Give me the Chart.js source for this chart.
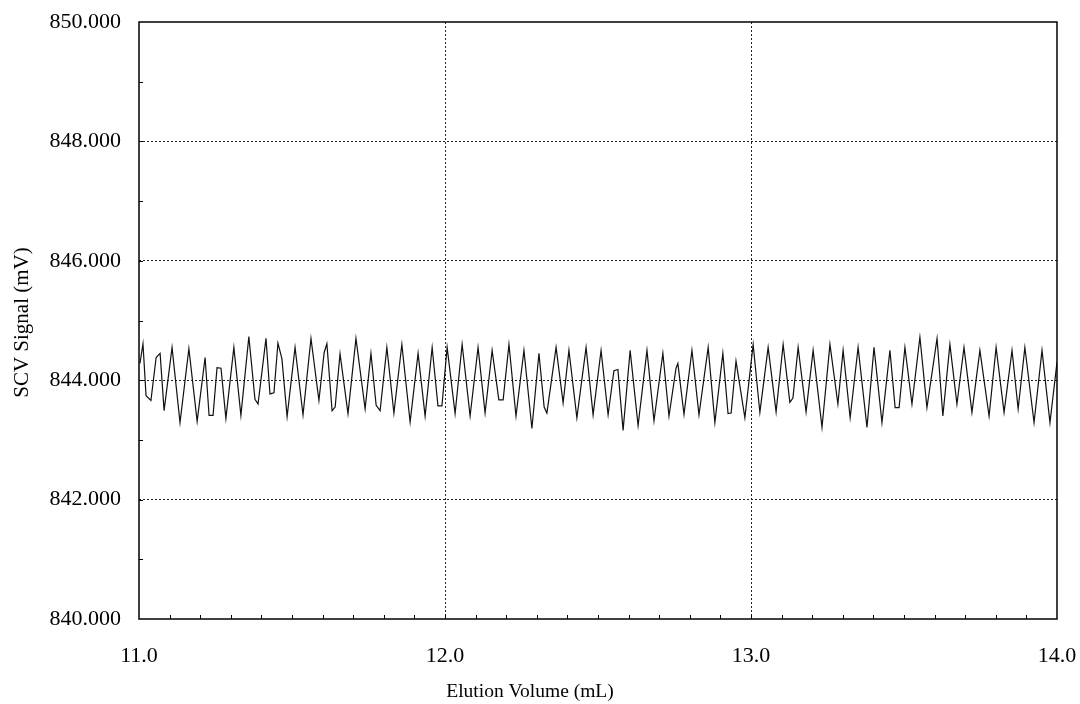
<!DOCTYPE html>
<html>
<head>
<meta charset="utf-8">
<title>SCV Signal</title>
<script src="https://cdn.jsdelivr.net/npm/chart.js@4/dist/chart.umd.min.js"></script>
<style>
    html, body { margin: 0; padding: 0; background: #fff; }
    #wrap { width: 1080px; height: 704px; position: relative; }
</style>
</head>
<body>
<div id="wrap"><canvas id="scvChart"></canvas></div>
<script>
// Baseline noise of the SCV detector, 11-14 mL window
const volume = [
    11.003, 11.013, 11.023, 11.039, 11.056, 11.069, 11.082, 11.108, 11.134, 11.163,
    11.190, 11.216, 11.229, 11.242, 11.255, 11.268, 11.284, 11.310, 11.333, 11.359,
    11.379, 11.389, 11.415, 11.428, 11.441, 11.454, 11.467, 11.484, 11.510, 11.536,
    11.562, 11.588, 11.605, 11.614, 11.631, 11.641, 11.657, 11.683, 11.709, 11.739,
    11.758, 11.775, 11.788, 11.810, 11.833, 11.859, 11.886, 11.912, 11.935, 11.958,
    11.977, 11.990, 12.007, 12.033, 12.056, 12.082, 12.108, 12.131, 12.154, 12.176,
    12.190, 12.209, 12.232, 12.258, 12.284, 12.307, 12.324, 12.333, 12.363, 12.386,
    12.405, 12.431, 12.461, 12.484, 12.510, 12.533, 12.552, 12.565, 12.582, 12.605,
    12.631, 12.660, 12.683, 12.712, 12.732, 12.755, 12.761, 12.781, 12.807, 12.830,
    12.860, 12.882, 12.908, 12.925, 12.935, 12.951, 12.980, 13.007, 13.029, 13.056,
    13.082, 13.105, 13.127, 13.137, 13.154, 13.180, 13.203, 13.232, 13.258, 13.284,
    13.301, 13.324, 13.350, 13.379, 13.402, 13.428, 13.454, 13.471, 13.484, 13.503,
    13.526, 13.552, 13.575, 13.608, 13.627, 13.650, 13.673, 13.696, 13.722, 13.748,
    13.778, 13.801, 13.827, 13.853, 13.873, 13.895, 13.925, 13.951, 13.977, 14.000
];
const signal = [
    844.28, 844.61, 843.74, 843.66, 844.38, 844.45, 843.49, 844.55, 843.29, 844.53,
    843.31, 844.38, 843.41, 843.41, 844.21, 844.20, 843.36, 844.55, 843.41, 844.73,
    843.68, 843.60, 844.70, 843.77, 843.79, 844.62, 844.36, 843.39, 844.55, 843.42,
    844.70, 843.66, 844.46, 844.61, 843.49, 843.55, 844.44, 843.44, 844.70, 843.52,
    844.45, 843.58, 843.49, 844.55, 843.45, 844.60, 843.30, 844.45, 843.40, 844.55,
    843.57, 843.57, 844.55, 843.44, 844.60, 843.40, 844.55, 843.45, 844.50, 843.67,
    843.67, 844.60, 843.40, 844.50, 843.19, 844.45, 843.55, 843.45, 844.55, 843.62,
    844.50, 843.37, 844.55, 843.42, 844.50, 843.42, 844.16, 844.18, 843.16, 844.50,
    843.24, 844.50, 843.32, 844.45, 843.40, 844.20, 844.28, 843.43, 844.50, 843.42,
    844.55, 843.29, 844.45, 843.44, 843.45, 844.32, 843.37, 844.60, 843.46, 844.55,
    843.47, 844.60, 843.63, 843.70, 844.55, 843.47, 844.50, 843.21, 844.60, 843.60,
    844.50, 843.37, 844.55, 843.21, 844.55, 843.29, 844.50, 843.54, 843.54, 844.55,
    843.60, 844.72, 843.54, 844.70, 843.40, 844.60, 843.60, 844.55, 843.46, 844.50,
    843.40, 844.55, 843.46, 844.50, 843.52, 844.55, 843.29, 844.50, 843.29, 844.30
];

const xMin = 11.0, xMax = 14.0, xStep = 1.0, xMinorStep = 0.1;
const yMin = 840, yMax = 850, yStep = 2, yMinorStep = 1;
const xTitle = 'Elution Volume (mL)';
const yTitle = 'SCV Signal (mV)';

const FONT = '"Liberation Serif", "Times New Roman", serif';

// Frame, inner minor ticks and axis titles
const framePlugin = {
    id: 'frame',
    afterDraw(chart) {
        const { ctx, chartArea: a, scales } = chart;
        ctx.save();

        // small inward ticks
        ctx.strokeStyle = '#000';
        ctx.lineWidth = 1;
        ctx.beginPath();
        const nx = Math.round((xMax - xMin) / xMinorStep);
        for (let i = 1; i < nx; i++) {
            const px = Math.round(scales.x.getPixelForValue(xMin + i * xMinorStep)) + 0.5;
            ctx.moveTo(px, a.bottom);
            ctx.lineTo(px, a.bottom - 4);
        }
        const ny = Math.round((yMax - yMin) / yMinorStep);
        for (let j = 1; j < ny; j++) {
            const py = Math.round(scales.y.getPixelForValue(yMin + j * yMinorStep)) + 0.5;
            ctx.moveTo(a.left, py);
            ctx.lineTo(a.left + 4, py);
        }
        ctx.stroke();

        // plot box
        ctx.lineWidth = 1.5;
        ctx.strokeRect(a.left, a.top, a.right - a.left, a.bottom - a.top);

        // titles
        ctx.fillStyle = '#000';
        ctx.textAlign = 'center';
        ctx.textBaseline = 'middle';
        ctx.font = '19.5px ' + FONT;
        ctx.fillText(xTitle, 530, a.bottom + 73);
        ctx.font = '21px ' + FONT;
        ctx.translate(22, (a.top + a.bottom) / 2 + 2);
        ctx.rotate(-Math.PI / 2);
        ctx.fillText(yTitle, 0, 0);
        ctx.restore();
    }
};

// fixed axis boxes, no extra room for overhanging end labels
function fixX(s) {
    s.height = 85;
    s.paddingLeft = 0;
    s.paddingRight = 0;
}
function fixY(s) {
    s.width = 139;
    s.paddingTop = 0;
    s.paddingBottom = 0;
}

new Chart(document.getElementById('scvChart'), {
    type: 'line',
    data: {
        datasets: [{
            data: volume.map((v, i) => ({ x: v, y: signal[i] })),
            borderColor: '#111',
            borderWidth: 1.2,
            pointRadius: 0,
            tension: 0,
            fill: false
        }]
    },
    options: {
        responsive: true,
        maintainAspectRatio: false,
        animation: false,
        devicePixelRatio: 1,
        layout: { padding: { top: 22, right: 23, bottom: 0, left: 0 } },
        plugins: {
            legend: { display: false },
            tooltip: { enabled: false }
        },
        scales: {
            x: {
                type: 'linear',
                min: xMin,
                max: xMax,
                afterFit: fixX,
                ticks: {
                    stepSize: xStep,
                    padding: 24,
                    color: '#000',
                    font: { family: FONT, size: 22 },
                    maxRotation: 0,
                    callback: v => Number(v).toFixed(1)
                },
                grid: {
                    drawTicks: false,
                    color: ctx => (ctx.tick && ctx.tick.value > xMin && ctx.tick.value < xMax) ? '#222' : 'rgba(0,0,0,0)',
                    lineWidth: 1
                },
                border: { display: false, dash: [2, 2] }
            },
            y: {
                type: 'linear',
                min: yMin,
                max: yMax,
                afterFit: fixY,
                ticks: {
                    stepSize: yStep,
                    padding: 18,
                    color: '#000',
                    font: { family: FONT, size: 22 },
                    callback: v => Number(v).toFixed(3)
                },
                grid: {
                    drawTicks: false,
                    color: ctx => (ctx.tick && ctx.tick.value > yMin && ctx.tick.value < yMax) ? '#222' : 'rgba(0,0,0,0)',
                    lineWidth: 1
                },
                border: { display: false, dash: [2, 2] }
            }
        }
    },
    plugins: [framePlugin]
});
</script>
</body>
</html>
